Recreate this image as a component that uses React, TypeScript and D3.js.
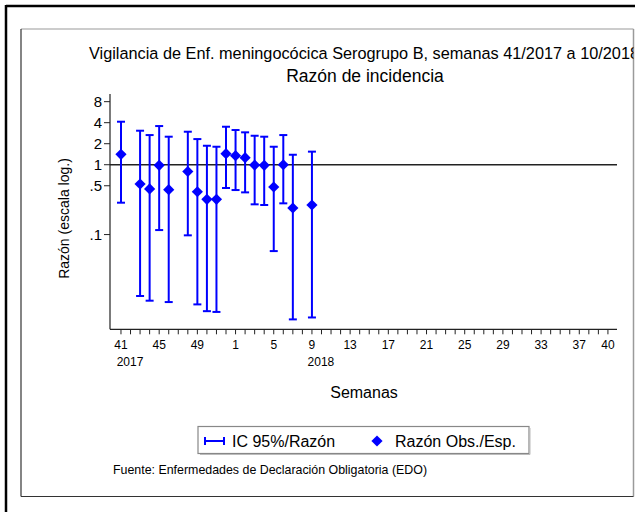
import React from "react";
import * as d3 from "d3";

// Categories: all weeks from 41/2017 to 40/2018
const weekNums = [41, 42, 43, 44, 45, 46, 47, 48, 49, 50, 51, 52,
  1, 2, 3, 4, 5, 6, 7, 8, 9, 10, 11, 12, 13, 14, 15, 16, 17, 18, 19, 20,
  21, 22, 23, 24, 25, 26, 27, 28, 29, 30, 31, 32, 33, 34, 35, 36, 37, 38, 39, 40];
const tickLabelWeeks = [41, 45, 49, 1, 5, 9, 13, 17, 21, 25, 29, 33, 37, 40];
const yearLabels = [
  { week: 41, year: "2017" },
  { week: 9, year: "2018" },
];

// Observed series
const obsWeeks = [41, 43, 44, 45, 46, 48, 49, 50, 51, 52, 1, 2, 3, 4, 5, 6, 7, 9];
const ratio = [1.41, 0.53, 0.45, 0.98, 0.44, 0.8, 0.41, 0.32, 0.32, 1.44, 1.35, 1.26, 0.99, 0.98, 0.48, 1.0, 0.24, 0.265];
const lower = [0.286, 0.0132, 0.0113, 0.116, 0.0108, 0.0975, 0.01, 0.008, 0.0078, 0.464, 0.434, 0.402, 0.271, 0.265, 0.058, 0.28, 0.0061, 0.0065];
const upper = [4.13, 3.07, 2.66, 3.58, 2.52, 2.97, 2.33, 1.87, 1.81, 3.5, 3.14, 2.91, 2.6, 2.52, 1.81, 2.66, 1.39, 1.54];

const yTicks = [8, 4, 2, 1, 0.5, 0.1];
const yTickLabels = ["8", "4", "2", "1", ".5", ".1"];

const FONT = "'Liberation Sans', Arial, Helvetica, sans-serif";
const BLUE = "#0000ff";

export default function App() {
  const W = 635, H = 512;
  const left = 110, right = 617, top = 94, bottom = 329.3;
  const x = d3.scaleLinear().domain([-1.15, 51.95]).range([left, right]);
  const y = d3.scaleLog().domain([0.0044, 10.3]).range([bottom, top]);
  const xi = (w: number) => x(weekNums.indexOf(w));
  const diamond = d3.symbol().type(d3.symbolDiamond2).size(80)();
  const cap = 4;

  return (
    <svg width={W} height={H} style={{ position: "absolute", left: 0, top: 0, background: "#fff" }} fontFamily={FONT}>
      <defs>
        <clipPath id="frameClip">
          <rect x={21} y={29} width={612.5} height={467.5} />
        </clipPath>
      </defs>
      <rect x={0} y={0} width={W} height={H} fill="#fff" />
      {/* outer black frame */}
      <line x1={6} y1={6} x2={W} y2={6} stroke="#000" strokeWidth={2.5} />
      <line x1={6} y1={5} x2={6} y2={H} stroke="#000" strokeWidth={2.5} />
      {/* inner frame */}
      <line x1={21} y1={29} x2={633.5} y2={29} stroke="#9a9a9a" strokeWidth={1.2} />
      <line x1={633.5} y1={29} x2={633.5} y2={496.5} stroke="#9a9a9a" strokeWidth={1.5} />
      <line x1={21} y1={29} x2={21} y2={496.5} stroke="#333" strokeWidth={1.2} />
      <line x1={21} y1={496.5} x2={633.5} y2={496.5} stroke="#333" strokeWidth={1.2} />

      {/* titles */}
      <g clipPath="url(#frameClip)">
        <text x={364} y={59} textAnchor="middle" fontSize={16.3} fill="#000">
          Vigilancia de Enf. meningocócica Serogrupo B, semanas 41/2017 a 10/2018
        </text>
      </g>
      <text x={365} y={82} textAnchor="middle" fontSize={17.5} fill="#000">
        Razón de incidencia
      </text>

      {/* y axis */}
      <line x1={left} y1={top} x2={left} y2={bottom} stroke="#222" strokeWidth={1.2} />
      {yTicks.map((t, i) => (
        <g key={t}>
          <line x1={left - 6} x2={left} y1={y(t)} y2={y(t)} stroke="#222" strokeWidth={1} />
          <text x={left - 8} y={y(t)} dy="0.35em" textAnchor="end" fontSize={15} fill="#000">
            {yTickLabels[i]}
          </text>
        </g>
      ))}
      <text transform={`translate(69,218.5) rotate(-90)`} textAnchor="middle" fontSize={14} fill="#000">
        Razón (escala log.)
      </text>

      {/* x axis */}
      <line x1={left} y1={bottom} x2={right} y2={bottom} stroke="#222" strokeWidth={1.2} />
      {weekNums.map((w, i) => (
        <line key={i} x1={x(i)} x2={x(i)} y1={bottom} y2={bottom + 5} stroke="#222" strokeWidth={1} />
      ))}
      {tickLabelWeeks.map((w) => (
        <text key={w} x={xi(w)} y={349} textAnchor="middle" fontSize={12} fill="#000">
          {w}
        </text>
      ))}
      {yearLabels.map((d) => (
        <text key={d.year} x={xi(d.week) + 9} y={366} textAnchor="middle" fontSize={12} fill="#000">
          {d.year}
        </text>
      ))}
      <text x={364} y={398} textAnchor="middle" fontSize={16} fill="#000">Semanas</text>

      {/* reference line */}
      <line x1={left} x2={right} y1={y(1)} y2={y(1)} stroke="#222" strokeWidth={1.3} />

      {/* error bars */}
      {obsWeeks.map((w, i) => {
        const cx = xi(w);
        return (
          <g key={"e" + i} stroke={BLUE} strokeWidth={2}>
            <line x1={cx} x2={cx} y1={y(lower[i])} y2={y(upper[i])} />
            <line x1={cx - cap} x2={cx + cap} y1={y(lower[i])} y2={y(lower[i])} />
            <line x1={cx - cap} x2={cx + cap} y1={y(upper[i])} y2={y(upper[i])} />
          </g>
        );
      })}
      {obsWeeks.map((w, i) => (
        <path key={"p" + i} d={diamond || ""} transform={`translate(${xi(w)},${y(ratio[i])})`} fill={BLUE} />
      ))}

      {/* legend */}
      <rect x={198} y={426.5} width={331} height={27} fill="#fff" stroke="#888" strokeWidth={1.2} />
      <line x1={200} y1={454.5} x2={530} y2={454.5} stroke="#bbb" strokeWidth={1} />
      <line x1={530} y1={428} x2={530} y2={454.5} stroke="#bbb" strokeWidth={1} />
      <g stroke={BLUE} strokeWidth={2}>
        <line x1={205} x2={224} y1={441} y2={441} />
        <line x1={205} x2={205} y1={437} y2={445} />
        <line x1={224} x2={224} y1={437} y2={445} />
      </g>
      <text x={232} y={446.5} fontSize={16} fill="#000">IC 95%/Razón</text>
      <path d={diamond || ""} transform="translate(377,441)" fill={BLUE} />
      <text x={395} y={446.5} fontSize={16} fill="#000">Razón Obs./Esp.</text>

      {/* footer */}
      <text x={113} y={474} fontSize={12.4} fill="#000">
        Fuente: Enfermedades de Declaración Obligatoria (EDO)
      </text>
    </svg>
  );
}
